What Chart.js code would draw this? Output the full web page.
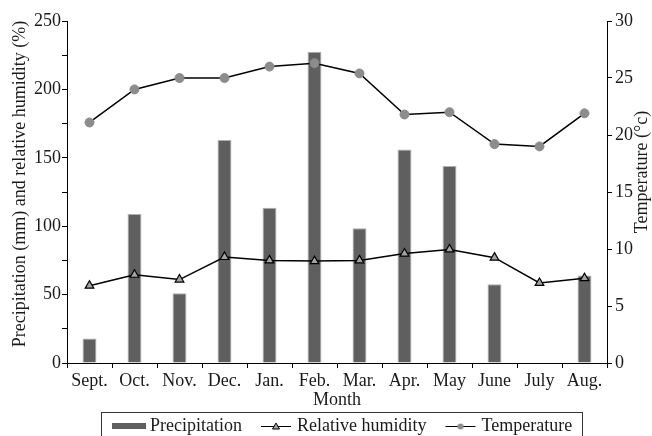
<!DOCTYPE html>
<html><head><meta charset="utf-8">
<script src="https://cdn.jsdelivr.net/npm/chart.js@4/dist/chart.umd.min.js"></script>
<style>html,body{margin:0;padding:0;background:#fff;overflow:hidden}#wrap{width:652px;height:436px;position:relative}</style>
</head><body><div id="wrap"><canvas id="c" width="652" height="436"></canvas></div>
<script>
const months = ['Sept.','Oct.','Nov.','Dec.','Jan.','Feb.','Mar.','Apr.','May','June','July','Aug.'];
const precipitation = [18,109,51,163,113.5,227.5,98.5,156,144,57.5,0,64];
const humidity = [56.5,64.5,61,77.5,75,74.5,75,80,83,77,58.5,62];
const temperature = [21.1,24,25,25,26,26.3,25.4,21.8,22,19.2,19,21.9];
const leftTicks = [0,50,100,150,200,250];
const rightTicks = [0,5,10,15,20,25,30];
const seriesNames = ['Precipitation','Relative humidity','Temperature'];
const xTitle = 'Month';
const leftTitle = 'Precipitation (mm) and relative humidity (%)';
const rightTitle = 'Temperature (°c)';

const FONT = 'Liberation Serif';
const TXT = '#1a1a1a';

function makeIcon(kind){
  const c = document.createElement('canvas'); c.width = 34; c.height = 10;
  const g = c.getContext('2d');
  if (kind === 'bar') { g.fillStyle = '#5f5f5f'; g.fillRect(0,2,34,6); }
  else {
    g.strokeStyle = '#000'; g.lineWidth = 1;
    g.beginPath(); g.moveTo(2,5.5); g.lineTo(32,5.5); g.stroke();
    if (kind === 'tri') {
      g.fillStyle = '#a4a4a4'; g.beginPath(); g.moveTo(17,2); g.lineTo(20.5,8); g.lineTo(13.5,8); g.closePath(); g.fill(); g.stroke();
    } else {
      g.fillStyle = '#8c8c8c'; g.beginPath(); g.arc(17,5.5,3,0,Math.PI*2); g.fill();
    }
  }
  return c;
}
const icons = [makeIcon('bar'), makeIcon('tri'), makeIcon('dot')];

const customPlugin = {
  id: 'custom',
  afterLayout(chart){
    const lg = chart.legend; if (!lg) return;
    const pad = lg.options.labels.padding;
    const h = lg.height;
    lg.left = 117 - pad;
    lg.top = 426 - pad - 9;
    lg.bottom = lg.top + h;
  },
  afterDraw(chart){
    const ctx = chart.ctx;
    const boxes = chart.legend.legendHitBoxes;
    ctx.save();
    if (boxes && boxes.length) {
      const first = boxes[0], last = boxes[boxes.length-1];
      const L = Math.round(first.left - 16) + 0.5;
      const R = Math.round(last.left + last.width + 10) + 0.5;
      ctx.strokeStyle = '#333'; ctx.lineWidth = 1;
      ctx.strokeRect(L, 412.5, R - L, 40);
    }
    ctx.fillStyle = TXT; ctx.font = '18px "' + FONT + '"';
    ctx.textAlign = 'center'; ctx.textBaseline = 'middle';
    ctx.save(); ctx.translate(20, 184); ctx.rotate(-Math.PI/2); ctx.fillText(leftTitle, 0, 0); ctx.restore();
    ctx.save(); ctx.translate(642, 172); ctx.rotate(-Math.PI/2); ctx.fillText(rightTitle, 0, 0); ctx.restore();
    ctx.restore();
  }
};

const axisGrid = {display:true, drawOnChartArea:false, drawTicks:true, tickLength:5, color:'#000', lineWidth:1};
const tickFont = {family: FONT, size: 18};

new Chart(document.getElementById('c'), {
  type: 'bar',
  data: {
    labels: months,
    datasets: [
      {type:'bar', label: seriesNames[0], data: precipitation, yAxisID:'y',
       backgroundColor:'#5f5f5f', borderColor:'#b0b0b0', borderWidth:1,
       barPercentage:0.31, categoryPercentage:1, order:3},
      {type:'line', label: seriesNames[1], data: humidity, yAxisID:'y',
       borderColor:'#000', borderWidth:1.5, tension:0, fill:false,
       pointStyle:'triangle', pointRadius:5, pointBackgroundColor:'#a4a4a4',
       pointBorderColor:'#000', pointBorderWidth:1.2, order:1},
      {type:'line', label: seriesNames[2], data: temperature, yAxisID:'y1',
       borderColor:'#000', borderWidth:1.5, tension:0, fill:false,
       pointStyle:'circle', pointRadius:4.5, pointBackgroundColor:'#8c8c8c',
       pointBorderColor:'#8c8c8c', pointBorderWidth:1, order:2}
    ]
  },
  options: {
    responsive:false, animation:false, devicePixelRatio:1,
    layout:{padding:{top:21,left:0,right:0,bottom:-17}},
    plugins:{
      tooltip:{enabled:false},
      legend:{
        display:true, position:'bottom', align:'start',
        labels:{
          usePointStyle:true, pointStyleWidth:24, padding:22,
          font:{family:FONT, size:18}, color:TXT,
          sort:(a,b)=>a.datasetIndex-b.datasetIndex,
          generateLabels(chart){
            const items = Chart.defaults.plugins.legend.labels.generateLabels(chart);
            items.forEach(it => { it.pointStyle = icons[it.datasetIndex]; it.lineWidth = 0; it.strokeStyle = 'rgba(0,0,0,0)'; });
            return items;
          }
        }
      }
    },
    scales:{
      x:{
        grid:Object.assign({}, axisGrid, {offset:true}),
        border:{display:true, color:'#000', width:1},
        ticks:{font:tickFont, color:TXT, padding:2, maxRotation:0, autoSkip:false},
        title:{display:true, text:xTitle, font:{family:FONT, size:18, lineHeight:1}, color:TXT, padding:{top:0,bottom:-6}},
        afterFit(s){ s.height = 40; }
      },
      y:{
        position:'left', min:0, max:250,
        grid:axisGrid, border:{display:true, color:'#000', width:1},
        ticks:{stepSize:25, font:tickFont, color:TXT, padding:1,
          callback:(v)=> leftTicks.includes(v) ? String(v) : ''},
        afterFit(s){ s.width = 67; }
      },
      y1:{
        position:'right', min:0, max:30,
        grid:axisGrid, border:{display:true, color:'#000', width:1},
        ticks:{stepSize:5, font:tickFont, color:TXT, padding:3,
          callback:(v)=> rightTicks.includes(v) ? String(v) : ''},
        afterFit(s){ s.width = 45; }
      }
    }
  },
  plugins:[customPlugin]
});
</script>
</body></html>
